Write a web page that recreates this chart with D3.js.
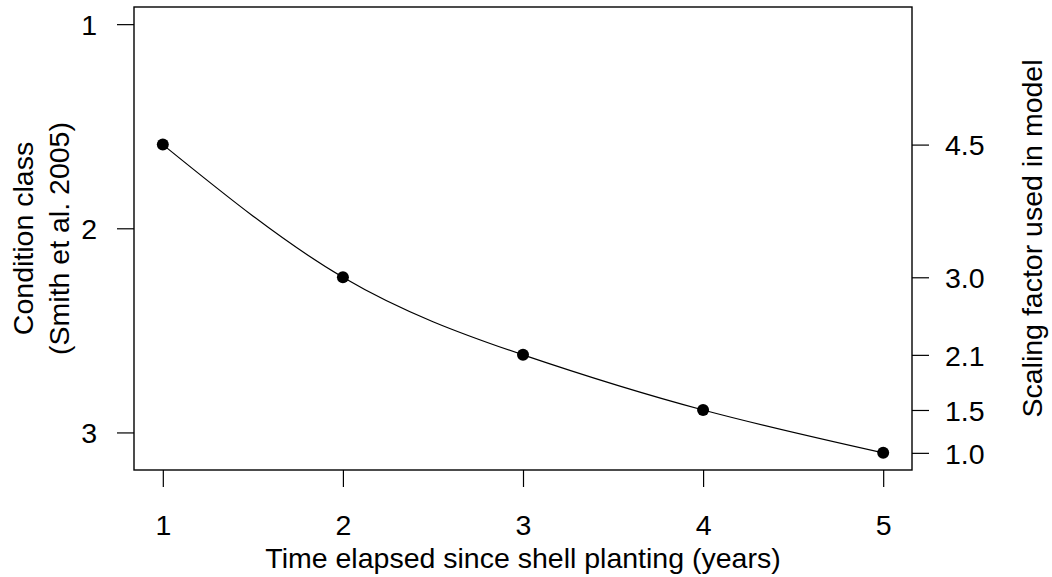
<!DOCTYPE html>
<html>
<head>
<meta charset="utf-8">
<script src="https://cdn.jsdelivr.net/npm/d3@7"></script>
<style>
  body { margin: 0; background: #fff; }
  svg { display: block; font-family: "Liberation Sans", Arial, Helvetica, sans-serif; }
  .axis path, .axis line { stroke: #000; stroke-width: 1.2; }
  .axis text { font-size: 28.5px; fill: #000; }
  .title { font-size: 28.5px; fill: #000; }
</style>
</head>
<body>
<div id="chart"></div>
<script>
// Values
var years = [1, 2, 3, 4, 5];
var conditionClass = [1.59, 2.24, 2.62, 2.89, 3.10];
var scalingFactor = ["4.5", "3.0", "2.1", "1.5", "1.0"];
var leftTicks = [1, 2, 3];

var width = 1052, height = 577;
var margin = { top: 7, right: 140, bottom: 107, left: 134 };

var svg = d3.select("#chart")
    .append("svg")
        .attr("width", width)
        .attr("height", height);

// R style: 4% padding around the data range
var x = d3.scaleLinear()
    .domain([0.84, 5.16])
    .range([margin.left, width - margin.right]);

var y = d3.scaleLinear()
    .domain([0.916, 3.184])
    .range([margin.top, height - margin.bottom]);

var points = years.map(function(d, i) { return { x: d, y: conditionClass[i] } });

// Smooth curve through the points
var line = d3.line()
    .x(function(d) { return x(d.x) })
    .y(function(d) { return y(d.y) })
    .curve(d3.curveNatural);

svg.append("path")
    .datum(points)
    .attr("d", line)
    .attr("fill", "none")
    .attr("stroke", "#000")
    .attr("stroke-width", 1.2);

svg.selectAll(".dot")
    .data(points)
    .enter()
    .append("circle")
        .attr("class", "dot")
        .attr("cx", function(d) { return x(d.x) })
        .attr("cy", function(d) { return y(d.y) })
        .attr("r", 6)
        .attr("fill", "#000");

// Plot box
svg.append("rect")
    .attr("x", margin.left)
    .attr("y", margin.top)
    .attr("width", width - margin.right - margin.left)
    .attr("height", height - margin.bottom - margin.top)
    .attr("fill", "none")
    .attr("stroke", "#000")
    .attr("stroke-width", 1.4);

// Bottom axis
var xAxis = svg.append("g")
    .attr("class", "axis")
    .attr("transform", "translate(0," + (height - margin.bottom) + ")")
    .call(d3.axisBottom(x).tickValues(years).tickSize(17).tickPadding(28).tickFormat(d3.format("d")));
xAxis.select(".domain").remove();

// Left axis
var yAxis = svg.append("g")
    .attr("class", "axis")
    .attr("transform", "translate(" + margin.left + ",0)")
    .call(d3.axisLeft(y).tickValues(leftTicks).tickSize(17).tickPadding(20).tickFormat(d3.format("d")));
yAxis.select(".domain").remove();
yAxis.selectAll("text").attr("dy", "0.36em");

// Right axis: scaling factor at each point
var rAxis = svg.append("g")
    .attr("class", "axis")
    .attr("transform", "translate(" + (width - margin.right) + ",0)")
    .call(d3.axisRight(y).tickValues(conditionClass).tickSize(17).tickPadding(16)
        .tickFormat(function(d, i) { return scalingFactor[i] }));
rAxis.select(".domain").remove();
rAxis.selectAll("text").attr("dy", "0.36em");

// Axis titles
svg.append("text")
    .attr("class", "title")
    .attr("x", x(3))
    .attr("y", 568)
    .attr("text-anchor", "middle")
    .text("Time elapsed since shell planting (years)");

var midY = (margin.top + height - margin.bottom) / 2;

svg.append("text")
    .attr("class", "title")
    .attr("transform", "translate(33," + midY + ") rotate(-90)")
    .attr("text-anchor", "middle")
    .text("Condition class");

svg.append("text")
    .attr("class", "title")
    .attr("transform", "translate(69," + midY + ") rotate(-90)")
    .attr("text-anchor", "middle")
    .text("(Smith et al. 2005)");

svg.append("text")
    .attr("class", "title")
    .attr("transform", "translate(1042," + midY + ") rotate(-90)")
    .attr("text-anchor", "middle")
    .text("Scaling factor used in model");
</script>
</body>
</html>
